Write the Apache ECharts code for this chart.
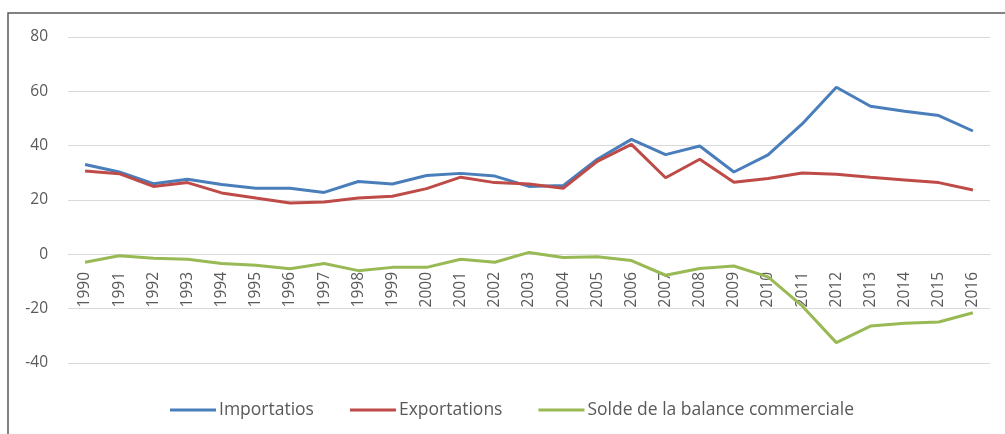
<!DOCTYPE html>
<html>
<head>
<meta charset="utf-8">
<script src="https://cdn.jsdelivr.net/npm/echarts@6/dist/echarts.min.js"></script>
<style>
    html, body { margin: 0; padding: 0; background: #fff; }
    #chart { width: 1005px; height: 434px; }
</style>
</head>
<body>
<div id="chart"></div>
<script>
    // annees
    var years = ['1990','1991','1992','1993','1994','1995','1996','1997','1998','1999',
        '2000','2001','2002','2003','2004','2005','2006','2007','2008','2009',
        '2010','2011','2012','2013','2014','2015','2016'];
    var importations = [33.1, 30.3, 26.0, 27.6, 25.7, 24.3, 24.3, 22.8, 26.8, 25.9,
        29.0, 29.8, 28.8, 25.0, 25.3, 35.0, 42.3, 36.7, 39.9, 30.3,
        36.6, 48.0, 61.5, 54.5, 52.7, 51.1, 45.4];
    var exportations = [30.7, 29.7, 25.0, 26.4, 22.6, 20.7, 18.9, 19.3, 20.7, 21.4,
        24.2, 28.4, 26.4, 25.9, 24.3, 34.2, 40.5, 28.2, 35.0, 26.5,
        27.9, 29.9, 29.5, 28.4, 27.4, 26.4, 23.7];
    var solde = [-2.9, -0.5, -1.4, -1.8, -3.4, -4.0, -5.3, -3.4, -6.0, -4.8,
        -4.8, -1.8, -2.9, 0.7, -1.2, -0.9, -2.3, -7.7, -5.2, -4.3,
        -8.3, -19.0, -32.5, -26.4, -25.4, -24.9, -21.5];
    var yTicks = [-40, -20, 0, 20, 40, 60, 80];

    var txt = '#595959';
    var font = 'Open Sans';

    var option = {
        animation: false,
        graphic: [
            {
                type: 'rect',
                shape: { x: 8, y: 13, width: 1200, height: 600 },
                style: { fill: 'none', stroke: '#595959', lineWidth: 1.5 },
                silent: true
            }
        ],
        grid: {
            left: 68,
            right: 15,
            top: 37,
            bottom: 71
        },
        legend: {
            left: 165,
            top: 396,
            icon: 'rect',
            itemWidth: 46,
            itemHeight: 3,
            itemGap: 36,
            textStyle: { color: txt, fontFamily: font, fontSize: 17.5, padding: [0, 0, 0, -2] },
            data: ['Importatios', 'Exportations', 'Solde de la balance commerciale']
        },
        xAxis: {
            type: 'category',
            data: years,
            boundaryGap: true,
            position: 'bottom',
            // l'axe des annees est place sur la ligne 0
            offset: -109,
            axisLine: { onZero: false, lineStyle: { color: '#d9d9d9', width: 1 } },
            axisTick: { show: false },
            axisLabel: {
                rotate: 90,
                margin: 18,
                interval: 0,
                color: txt,
                fontFamily: font,
                fontSize: 15.5
            }
        },
        yAxis: {
            type: 'value',
            min: yTicks[0],
            max: yTicks[yTicks.length - 1],
            interval: 20,
            axisLine: { show: false },
            axisTick: { show: false },
            splitLine: { lineStyle: { color: '#d9d9d9', width: 1 } },
            axisLabel: {
                margin: 20,
                color: txt,
                fontFamily: font,
                fontSize: 15.5
            }
        },
        series: [
            {
                name: 'Importatios',
                type: 'line',
                symbol: 'none',
                data: importations,
                itemStyle: { color: '#4a7ebb' },
                lineStyle: { color: '#4a7ebb', width: 3 }
            },
            {
                name: 'Exportations',
                type: 'line',
                symbol: 'none',
                data: exportations,
                itemStyle: { color: '#be4b48' },
                lineStyle: { color: '#be4b48', width: 3 }
            },
            {
                name: 'Solde de la balance commerciale',
                type: 'line',
                symbol: 'none',
                data: solde,
                itemStyle: { color: '#98b954' },
                lineStyle: { color: '#98b954', width: 3 }
            }
        ]
    };

    var myChart = echarts.init(document.getElementById('chart'));
    myChart.setOption(option);
</script>
</body>
</html>
